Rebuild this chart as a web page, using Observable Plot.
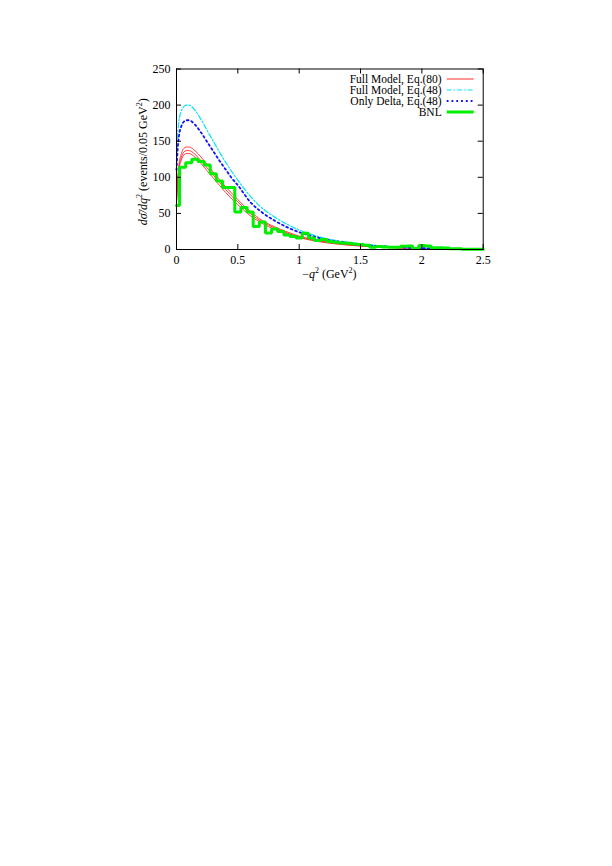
<!DOCTYPE html>
<html>
<head>
<meta charset="utf-8">
<script src="https://cdn.jsdelivr.net/npm/d3@7"></script>
<script src="https://cdn.jsdelivr.net/npm/@observablehq/plot@0.6"></script>
<style>
  html, body { margin: 0; padding: 0; background: #fff; }
  #chart svg { display: block; }
</style>
</head>
<body>
<div id="chart"></div>
<script>
// ---- data ----
const curveX   = [0, 0.01, 0.02, 0.04, 0.06, 0.08, 0.1, 0.15, 0.2, 0.25, 0.3, 0.35, 0.4, 0.45, 0.5, 0.6, 0.7, 0.8, 0.9, 1.0, 1.1, 1.2, 1.3, 1.4, 1.5, 1.6, 1.8, 2.0, 2.2, 2.5];
const redHigh  = [68, 98, 117, 133, 140, 142, 142, 137, 128, 118, 107, 97, 87, 78, 69, 53, 40, 31.5, 24.5, 18.5, 14.3, 11.2, 8.8, 7, 5.4, 4.3, 2.6, 1.5, 0.9, 0.35];
const redMid   = [66, 95, 113, 128, 135, 137, 137, 132, 123, 113, 103, 93, 83, 74, 66, 50, 38, 30, 23, 17.5, 13.5, 10.5, 8.2, 6.5, 5, 4, 2.4, 1.4, 0.8, 0.3];
const redLow   = [64, 92, 110, 124, 131, 133, 133, 128, 119, 109, 99, 89, 79, 70, 62, 47, 36, 28, 21.5, 16.5, 12.7, 9.8, 7.7, 6, 4.7, 3.7, 2.2, 1.3, 0.7, 0.25];
const cyanFull = [125, 160, 178, 192, 198, 200, 200, 193, 180, 165, 150, 135, 121, 108, 96, 74, 57, 45, 35, 27, 21, 16, 12.5, 10, 7.5, 6, 3.5, 2, 1.2, 0.5];
const blueDelta= [110, 140, 157, 171, 177, 179, 179, 173, 162, 149, 136, 123, 111, 99, 89, 66, 51, 40, 31, 24, 19, 14.5, 11.5, 9, 7, 5.3, 3.2, 1.9, 1.1, 0.4];

const bnlX = [0, 0.05, 0.1, 0.15, 0.2, 0.25, 0.3, 0.35, 0.4, 0.45, 0.5, 0.55, 0.6, 0.65, 0.7, 0.75, 0.8, 0.85, 0.9, 0.95,
              1.0, 1.05, 1.1, 1.15, 1.2, 1.25, 1.3, 1.35, 1.4, 1.45, 1.5, 1.55, 1.6, 1.65, 1.7, 1.75, 1.8, 1.85, 1.9, 1.95,
              2.0, 2.05, 2.1, 2.15, 2.2, 2.25, 2.3, 2.35, 2.4, 2.45, 2.5];
const bnlY = [61, 114, 120, 125, 122, 117, 105, 95, 86, 86, 52, 58, 52, 32, 38, 23, 28.5, 25, 20, 18,
              16, 22.5, 16, 12.5, 14, 11, 10, 9, 8.5, 7.5, 7, 6, 3, 4, 3.5, 3, 3, 4.5, 5, 1.5,
              5.5, 5, 2.5, 2.5, 2, 1, 1, 0.5, 0.5, 0.5, 0.5];

const xTicks = [0, 0.5, 1, 1.5, 2, 2.5];
const xTickLabels = ["0", "0.5", "1", "1.5", "2", "2.5"];
const yTicks = [0, 50, 100, 150, 200, 250];

const legendLabels = ["Full Model, Eq.(80)", "Full Model, Eq.(48)", "Only Delta, Eq.(48)", "BNL"];

// ---- styles ----
const FONT = "Liberation Serif, Times New Roman, serif";
const RED = "#ff2a2a", CYAN = "#00e4f4", BLUE = "#1010ff", GREEN = "#00ee00";
const BLUE_DASH = "1.8,3";
const CYAN_DASH = "5,2,1.5,2";

const W = 612, H = 300;
const mL = 176, mR = 129.3, mT = 68.5, mB = 51;
const frameW = W - mL - mR, frameH = H - mT - mB;
const tickLen = 5;

const series = (ys) => curveX.map((x, i) => ({x, y: ys[i]}));
const bnl = bnlX.map((x, i) => ({x, y: bnlY[i]}));

const plot = Plot.plot({
  width: W, height: H,
  marginLeft: mL, marginRight: mR, marginTop: mT, marginBottom: mB,
  style: {fontFamily: FONT, fontSize: "12px", color: "#000", background: "#fff"},
  x: {domain: [0, 2.5]},
  y: {domain: [0, 250]},
  marks: [
    Plot.line(series(redHigh), {x: "x", y: "y", stroke: RED, strokeWidth: 0.9, curve: "monotone-x"}),
    Plot.line(series(redMid),  {x: "x", y: "y", stroke: RED, strokeWidth: 0.9, curve: "monotone-x"}),
    Plot.line(series(redLow),  {x: "x", y: "y", stroke: RED, strokeWidth: 0.9, curve: "monotone-x"}),
    Plot.line(series(cyanFull), {x: "x", y: "y", stroke: CYAN, strokeWidth: 1.2, strokeDasharray: CYAN_DASH, curve: "monotone-x"}),
    Plot.line(series(blueDelta), {x: "x", y: "y", stroke: BLUE, strokeWidth: 1.8, strokeDasharray: BLUE_DASH, curve: "monotone-x"}),
    Plot.line(bnl, {x: "x", y: "y", stroke: GREEN, strokeWidth: 3, curve: "step", strokeLinejoin: "miter"}),
    // inward ticks on all four sides
    Plot.tickX(xTicks, {x: d => d, stroke: "#000", insetTop: frameH - tickLen}),
    Plot.tickX(xTicks, {x: d => d, stroke: "#000", insetBottom: frameH - tickLen}),
    Plot.tickY(yTicks, {y: d => d, stroke: "#000", insetRight: frameW - tickLen}),
    Plot.tickY(yTicks, {y: d => d, stroke: "#000", insetLeft: frameW - tickLen}),
    Plot.axisX(xTicks, {tickSize: 0, tickPadding: 6, tickFormat: (d, i) => xTickLabels[i], label: null, fontSize: 12}),
    Plot.axisY(yTicks, {tickSize: 0, tickPadding: 6, label: null, fontSize: 12}),
    Plot.frame({stroke: "#000", strokeWidth: 1})
  ]
});

document.getElementById("chart").appendChild(plot);

// ---- axis titles and legend ----
const svg = d3.select(plot);
const xs = plot.scale("x"), ys = plot.scale("y");
const cx = (xs.apply(0) + xs.apply(2.5)) / 2;
const cy = (ys.apply(0) + ys.apply(250)) / 2;

const xl = svg.append("text")
  .attr("x", cx).attr("y", ys.apply(0) + 29)
  .attr("text-anchor", "middle")
  .attr("font-family", FONT).attr("font-size", 12).attr("fill", "#000");
xl.append("tspan").text("\u2212");
xl.append("tspan").attr("font-style", "italic").text("q");
xl.append("tspan").attr("font-size", 8).attr("dy", -5).text("2");
xl.append("tspan").attr("dy", 5).text(" (GeV");
xl.append("tspan").attr("font-size", 8).attr("dy", -5).text("2");
xl.append("tspan").attr("dy", 5).text(")");

const yl = svg.append("text")
  .attr("transform", `translate(${xs.apply(0) - 29},${cy + 3}) rotate(-90)`)
  .attr("text-anchor", "middle")
  .attr("font-family", FONT).attr("font-size", 12).attr("fill", "#000");
yl.append("tspan").attr("font-style", "italic").text("d\u03C3\u0304/dq");
yl.append("tspan").attr("font-size", 8).attr("dy", -5).text("2");
yl.append("tspan").attr("dy", 5).text(" (events/0.05 GeV");
yl.append("tspan").attr("font-size", 8).attr("dy", -5).text("2");
yl.append("tspan").attr("dy", 5).text(")");

const legendStyles = [
  {stroke: RED, width: 1, dash: null},
  {stroke: CYAN, width: 1.2, dash: CYAN_DASH},
  {stroke: BLUE, width: 1.8, dash: BLUE_DASH},
  {stroke: GREEN, width: 3, dash: null}
];
const frameRight = xs.apply(2.5);
const textRight = frameRight - 41;
const sampleX1 = frameRight - 36, sampleX2 = frameRight - 9;
const rowY0 = ys.apply(250) + 10.5, rowStep = 11;
legendLabels.forEach((lab, i) => {
  const y = rowY0 + i * rowStep;
  svg.append("text")
    .attr("x", textRight).attr("y", y).attr("dy", "0.32em")
    .attr("text-anchor", "end")
    .attr("font-family", FONT).attr("font-size", 11.5).attr("fill", "#000")
    .text(lab);
  const st = legendStyles[i];
  svg.append("line")
    .attr("x1", sampleX1).attr("x2", sampleX2).attr("y1", y).attr("y2", y)
    .attr("stroke", st.stroke).attr("stroke-width", st.width)
    .attr("stroke-dasharray", st.dash);
});
</script>
</body>
</html>
